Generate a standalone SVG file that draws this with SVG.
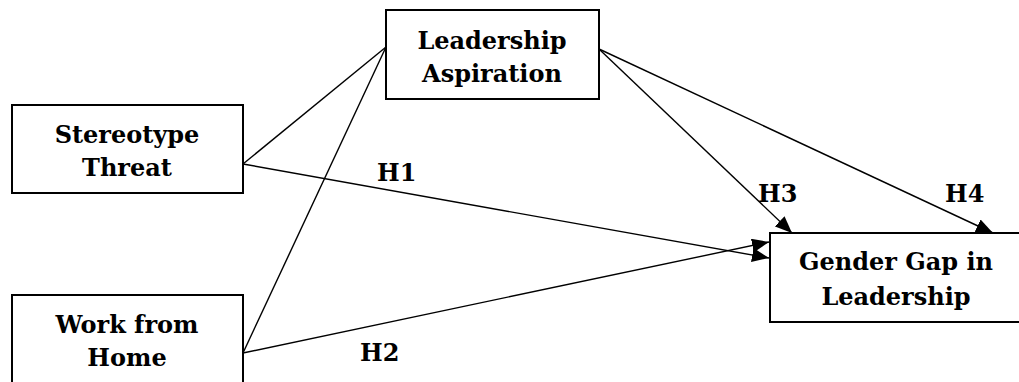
<svg xmlns="http://www.w3.org/2000/svg" width="1019" height="382" viewBox="0 0 1019 382">
<style>
.box{fill:#fff;stroke:#000;stroke-width:2}
.t{font-family:"DejaVu Serif","Liberation Serif",serif;font-weight:bold;font-size:24px;fill:#000;text-anchor:middle}
.lbl{font-family:"DejaVu Serif","Liberation Serif",serif;font-weight:bold;font-size:24px;fill:#000}
.c{stroke:#000;stroke-width:1.4;fill:none}
</style>
<defs>
<marker id="ah" markerUnits="userSpaceOnUse" markerWidth="18" markerHeight="14" refX="17" refY="7" orient="auto">
<path d="M0,0 L17,7 L0,14 Z" fill="#000"/>
</marker>
</defs>
<rect width="1019" height="382" fill="#fff"/>
<g id="connectors">
<line class="c" x1="243" y1="164" x2="386" y2="47"/>
<line class="c" x1="243" y1="353" x2="386" y2="47"/>
<line class="c" x1="243" y1="164" x2="769" y2="258" marker-end="url(#ah)"/>
<line class="c" x1="243" y1="353" x2="769" y2="242" marker-end="url(#ah)"/>
<line class="c" x1="599" y1="49" x2="792" y2="233" marker-end="url(#ah)"/>
<line class="c" x1="599" y1="49" x2="993" y2="233" marker-end="url(#ah)"/>
</g>
<g id="node-leadership-aspiration">
<rect class="box" x="386" y="10" width="213" height="89"/>
<text class="t" x="492" y="49">Leadership</text>
<text class="t" x="492" y="82">Aspiration</text>
</g>
<g id="node-stereotype-threat">
<rect class="box" x="12" y="105" width="231" height="88"/>
<text class="t" x="127" y="143">Stereotype</text>
<text class="t" x="127" y="176">Threat</text>
</g>
<g id="node-work-from-home">
<rect class="box" x="12" y="295" width="231" height="100"/>
<text class="t" x="127" y="333">Work from</text>
<text class="t" x="127" y="366">Home</text>
</g>
<g id="node-gender-gap">
<rect class="box" x="770" y="233" width="254" height="89"/>
<text class="t" x="896" y="270">Gender Gap in</text>
<text class="t" x="896" y="305">Leadership</text>
</g>
<g id="labels">
<text class="lbl" x="377" y="181">H1</text>
<text class="lbl" x="360" y="361">H2</text>
<text class="lbl" x="758" y="202">H3</text>
<text class="lbl" x="945" y="202">H4</text>
</g>
</svg>
